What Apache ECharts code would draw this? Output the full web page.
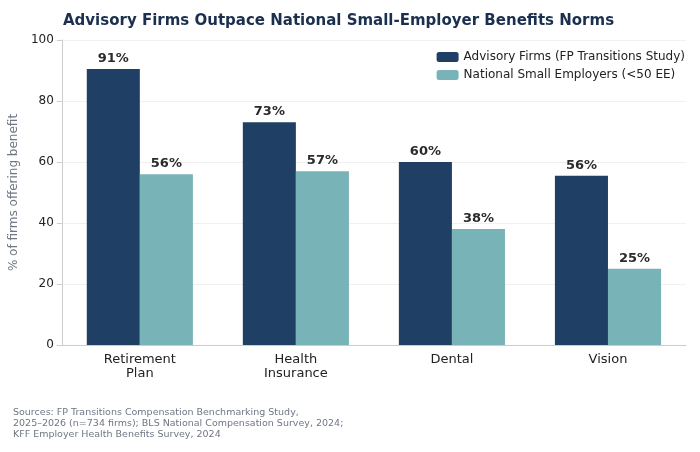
<!DOCTYPE html>
<html>
<head>
<meta charset="utf-8">
<script src="https://cdn.jsdelivr.net/npm/echarts@6/dist/echarts.min.js"></script>
<style>html,body{margin:0;padding:0;background:#fff;}#chart{width:700px;height:452px;}</style>
</head>
<body>
<div id="chart"></div>
<script>
const categories = ['Retirement\nPlan', 'Health\nInsurance', 'Dental', 'Vision'];
const advisoryFirms = [90.5, 73, 60, 55.5];
const nationalSmall = [56, 57, 38, 25];
const seriesNames = ['Advisory Firms (FP Transitions Study)', 'National Small Employers (<50 EE)'];

const chart = echarts.init(document.getElementById('chart'));
const font = 'DejaVu Sans';
const label = {
  show: true, position: 'top', distance: 4,
  formatter: p => Math.round(p.value) + '%',
  fontFamily: font, fontSize: 13, fontWeight: 'bold', color: '#2b2b2b'
};
chart.setOption({
  textStyle: { fontFamily: font },
  title: [{
    text: 'Advisory Firms Outpace National Small-Employer Benefits Norms',
    left: 58, top: 9,
    textStyle: { fontFamily: font, fontSize: 15, fontWeight: 'bold', color: '#1b2f4e' }
  }, {
    text: 'Sources: FP Transitions Compensation Benchmarking Study,\n2025–2026 (n=734 firms); BLS National Compensation Survey, 2024;\nKFF Employer Health Benefits Survey, 2024',
    left: 8, top: 402,
    textStyle: { fontFamily: font, fontSize: 9.5, fontWeight: 'normal', color: '#6f7785', lineHeight: 11 }
  }],
  legend: {
    data: seriesNames, orient: 'vertical', right: 10, top: 46,
    itemWidth: 22, itemHeight: 10, itemGap: 6,
    textStyle: { fontFamily: font, fontSize: 12, color: '#222' }
  },
  grid: { left: 58, right: 14, top: 40, bottom: 107 },
  xAxis: {
    type: 'category', data: categories,
    axisLine: { lineStyle: { color: '#ccc' } },
    axisTick: { show: false },
    axisLabel: { fontFamily: font, fontSize: 13, color: '#222', lineHeight: 14 }
  },
  yAxis: {
    type: 'value', min: 0, max: 100, interval: 20,
    name: '% of firms offering benefit', nameLocation: 'middle', nameGap: 38,
    nameTextStyle: { fontFamily: font, fontSize: 12, color: '#6f7785' },
    axisLine: { show: true, lineStyle: { color: '#ccc' } },
    axisTick: { show: true, lineStyle: { color: '#ccc' } },
    axisLabel: { fontFamily: font, fontSize: 12, color: '#222' },
    splitLine: { lineStyle: { color: '#f0f0f0' } }
  },
  series: [
    { name: seriesNames[0], type: 'bar', data: advisoryFirms, barWidth: '34%', barGap: '0%',
      itemStyle: { color: '#1f4064' }, label: label },
    { name: seriesNames[1], type: 'bar', data: nationalSmall, barWidth: '34%',
      itemStyle: { color: '#78b4b7' }, label: label }
  ]
});
</script>
</body>
</html>
